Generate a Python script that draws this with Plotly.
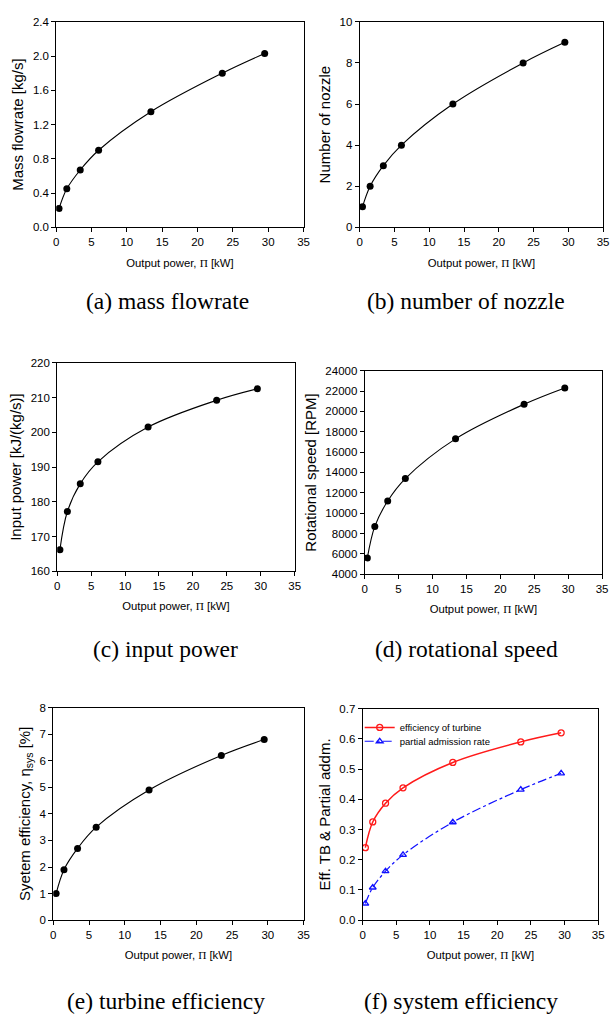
import plotly.graph_objects as go

# ---- data ----
output_power = [0.4, 1.5, 3.4, 6.0, 13.4, 23.5, 29.5]
mass_flowrate = [0.22, 0.45, 0.67, 0.90, 1.35, 1.80, 2.03]
num_nozzle = [1, 2, 3, 4, 6, 8, 9]
input_power = [166.2, 177.2, 185.2, 191.5, 201.5, 209.2, 212.5]
rot_speed = [5600, 8700, 11200, 13400, 17300, 20700, 22300]
sys_eff = [1.0, 1.9, 2.7, 3.5, 4.9, 6.2, 6.8]
turbine_eff = [0.24, 0.325, 0.387, 0.438, 0.522, 0.590, 0.620]
partial_adm = [0.055, 0.108, 0.162, 0.216, 0.324, 0.432, 0.486]

captions = ["(a) mass flowrate", "(b) number of nozzle", "(c) input power",
            "(d) rotational speed", "(e) turbine efficiency", "(f) system efficiency"]
y_titles = ["Mass flowrate [kg/s]", "Number of nozzle", "Input power [kJ/(kg/s)]",
            "Rotational speed [RPM]", "Syetem efficiency, η<sub>sys</sub> [%]",
            "Eff. TB &amp; Partial addm."]
x_title = "Output power, <span style='font-family:Liberation Serif'>Π</span> [kW]"

W, H = 615, 1022
# plot boxes in pixels: (left, right, top, bottom)
boxes = [(54, 305, 16, 224), (362, 609, 16, 224),
         (55, 296, 361, 572), (367, 608, 369, 575),
         (51, 305, 710, 925), (365, 604, 711, 925)]
y_ranges = [(0, 2.4, 0.4, ".1f"), (0, 10, 2, "d"), (160, 220, 10, "d"),
            (4000, 24000, 2000, "d"), (0, 8, 1, "d"), (0, 0.7, 0.1, ".1f")]
caption_pos = [(167, 299), (470, 299), (165, 651), (470, 651), (165, 1007), (465, 1007)]

FONT = "Liberation Sans, Arial"

fig = go.Figure()
single_series = [mass_flowrate, num_nozzle, input_power, rot_speed, sys_eff]
for i, ys in enumerate(single_series):
    sfx = "" if i == 0 else str(i + 1)
    fig.add_trace(go.Scatter(
        x=output_power, y=ys, mode="lines+markers",
        line=dict(color="black", width=1.1, shape="spline"),
        marker=dict(color="black", size=7),
        xaxis="x" + sfx, yaxis="y" + sfx, showlegend=False))

fig.add_trace(go.Scatter(
    x=output_power, y=turbine_eff, mode="lines+markers", name="efficiency of turbine",
    line=dict(color="#ff1a1a", width=1.5, shape="spline"),
    marker=dict(color="#ff1a1a", size=6, symbol="circle-open", line=dict(width=1.3)),
    xaxis="x6", yaxis="y6", legend="legend"))
fig.add_trace(go.Scatter(
    x=output_power, y=partial_adm, mode="lines+markers", name="partial admission rate",
    line=dict(color="#1010ff", width=1.2, shape="spline", dash="dashdot"),
    marker=dict(color="#1010ff", size=6, symbol="triangle-up-open", line=dict(width=1.3)),
    xaxis="x6", yaxis="y6", legend="legend2"))

layout = dict(width=W, height=H, margin=dict(l=0, r=0, t=0, b=0),
              paper_bgcolor="white", plot_bgcolor="white",
              font=dict(family=FONT, color="black", size=12))
annotations = []
for i in range(6):
    sfx = "" if i == 0 else str(i + 1)
    l, r, t, b = boxes[i]
    y0, y1, dy, fmt = y_ranges[i]
    common = dict(showline=True, linecolor="black", linewidth=1, mirror=True,
                  ticks="outside", ticklen=4, tickcolor="black", showgrid=False,
                  zeroline=False, tickfont=dict(size=11.5, family=FONT))
    layout["xaxis" + sfx] = dict(domain=[l / W, r / W], range=[0, 35], dtick=5, tick0=0,
                                 anchor="y" + sfx, ticklabeloverflow="allow",
                                 title=dict(text=x_title, font=dict(size=11.3), standoff=11),
                                 **common)
    layout["yaxis" + sfx] = dict(domain=[1 - b / H, 1 - t / H], range=[y0, y1], dtick=dy,
                                 tick0=y0, tickformat=fmt, anchor="x" + sfx,
                                 title=dict(text=y_titles[i], font=dict(size=15), standoff=5),
                                 **common)
    cx, cy = caption_pos[i]
    annotations.append(dict(text=captions[i], x=cx / W, y=1 - cy / H, xref="paper",
                            yref="paper", showarrow=False, xanchor="center", yanchor="middle",
                            font=dict(family="Liberation Serif, Times New Roman", size=23.5)))
layout["annotations"] = annotations
legend_common = dict(xanchor="left", yanchor="middle", bgcolor="rgba(0,0,0,0)",
                     font=dict(size=9.5, family=FONT), itemwidth=30, tracegroupgap=0)
layout["legend"] = dict(x=362 / W, y=1 - 730 / H, **legend_common)
layout["legend2"] = dict(x=362 / W, y=1 - 744 / H, **legend_common)
fig.update_layout(**layout)
fig.write_html("out.html", config={"displayModeBar": False},
               post_script="document.body.style.margin='0';document.body.style.overflow='hidden';")
